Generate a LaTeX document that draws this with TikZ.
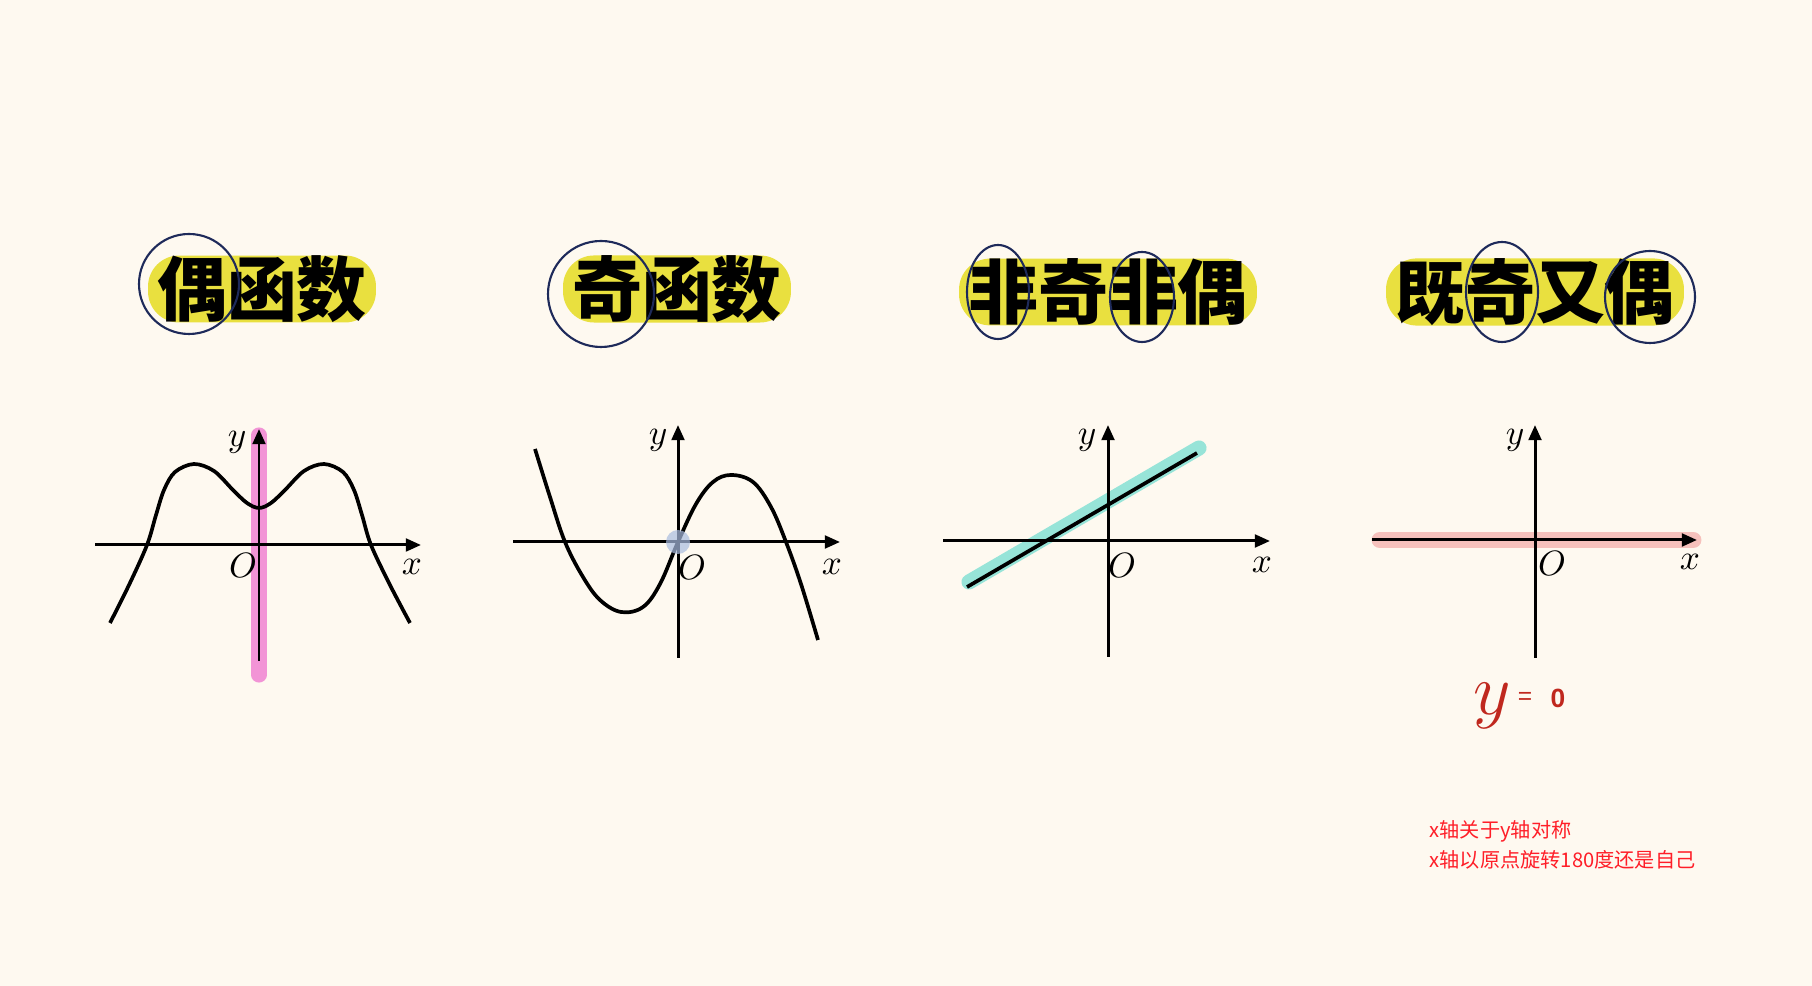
\documentclass[tikz,border=0pt]{standalone}
\usepackage{fontspec}
\newfontfamily\cjk{Noto Sans CJK SC}
\newfontfamily\handfont{Liberation Sans}
\usepackage{tikz}
\usetikzlibrary{arrows.meta, calc, positioning}
\definecolor{paper}{HTML}{FEF9F0}
\definecolor{hlyellow}{HTML}{E9E03F}
\definecolor{ringblue}{HTML}{1E2A5A}
\definecolor{barpink}{HTML}{F294D6}
\definecolor{dotblue}{HTML}{A9BCE0}
\definecolor{linecyan}{HTML}{97E4D8}
\definecolor{axissalmon}{HTML}{F6C1BC}
\definecolor{handred}{HTML}{C0281E}
\definecolor{notered}{HTML}{FF1E28}

\begin{document}
\begin{tikzpicture}[x=0.01cm, y=-0.01cm, >={Triangle[length=4.3pt,width=3.6pt]},
        title/.style={fill=hlyellow, rounded corners=0.31cm, minimum height=0.62cm,
            inner xsep=0.09cm, inner ysep=0pt, font=\cjk\bfseries\fontsize{19.9}{20}\selectfont},
        ring/.style={draw=ringblue, line width=0.6pt},
        axis/.style={->, line width=0.85pt},
        curve/.style={line width=1.05pt},
        glow/.style={line cap=round, line width=4.3pt},
        lbl/.style={font=\fontsize{10}{10}\selectfont, inner sep=0pt},
        hand/.style={text=handred, inner sep=0pt},
        note/.style={text=notered, font=\cjk\fontsize{5.74}{6}\selectfont, inner sep=0pt, anchor=west}]
        \fill[paper] (0,0) rectangle (1812,986);
        \useasboundingbox (0,0) rectangle (1812,986);

        % 偶函数
        \node[title] (t1) at (262,289) {偶函数};
        \draw[ring] ($(t1.center)+(-73,-5)$) circle [radius=50];
        \begin{scope}[shift={(259,545)}, yscale=-1]
            \coordinate (o1) at (0,0);
            \draw[glow, barpink] (0,-130) -- (0,110);
            \draw[axis] (-164,0) -- (162,0);
            \draw[axis] (0,-116) -- (0,116);
            \draw[curve] plot[smooth, tension=0.55] coordinates {(-149,-78) (-130,-40) (-112,0) (-103,30)
                (-95,55) (-84,73) (-65,81) (-45,74) (-26,55) (-12,42) (0,37) (12,42) (26,55)
                (45,74) (65,81) (84,73) (95,55) (103,30) (112,0) (131,-40) (151,-78)};
            \node[lbl] (y1) at (-22,103) {$y$};
            \node[lbl] (O1) at (-16,-20) {$O$};
            \node[lbl] (x1) at (153,-22) {$x$};
        \end{scope}

        % 奇函数
        \node[title] (t2) at (677,289) {奇函数};
        \draw[ring] ($(t2.center)+(-76,5)$) circle [radius=53];
        \begin{scope}[shift={(678,542)}, yscale=-1]
            \coordinate (o2) at (0,0);
            \draw[axis] (-165,0) -- (162,0);
            \draw[axis] (0,-116) -- (0,117);
            \draw[curve] plot[smooth, tension=0.6] coordinates {(-143,93) (-128,45) (-113,0) (-95,-35)
                (-78,-58) (-57,-70) (-35,-65) (-18,-42) (0,0) (18,38) (35,60) (53,67) (75,60)
                (93,35) (108,0) (123,-42) (140,-98)};
            \fill[dotblue, opacity=0.7] (o2) circle [radius=12];
            \node[lbl] (y2) at (-20,102) {$y$};
            \node[lbl] (O2) at (14,-25) {$O$};
            \node[lbl] (x2) at (154,-25) {$x$};
        \end{scope}

        % 非奇非偶
        \node[title] (t3) at (1108,292) {非奇非偶};
        \draw[ring] ($(t3.center)+(-110,0)$) ellipse [x radius=31, y radius=47];
        \draw[ring] ($(t3.center)+(34,5)$) ellipse [x radius=32, y radius=45];
        \begin{scope}[shift={(1108,541)}, yscale=-1]
            \coordinate (o3) at (0,0);
            \draw[glow, linecyan] (-139,-41) -- (91,93);
            \draw[axis] (-165,0) -- (162,0);
            \draw[axis] (0,-116) -- (0,116);
            \draw[curve] (-141,-46) -- (89,88);
            \node[lbl] (y3) at (-21,101) {$y$};
            \node[lbl] (O3) at (14,-24) {$O$};
            \node[lbl] (x3) at (154,-24) {$x$};
        \end{scope}

        % 既奇又偶
        \node[title] (t4) at (1535,292) {既奇又偶};
        \draw[ring] ($(t4.center)+(-33,0)$) ellipse [x radius=36, y radius=50];
        \draw[ring] ($(t4.center)+(115,5)$) ellipse [x radius=45, y radius=46];
        \begin{scope}[shift={(1535,540)}, yscale=-1]
            \coordinate (o4) at (0,0);
            \draw[glow, axissalmon, line width=4.8pt] (-155,0) -- (158,0);
            \draw[axis] (-163,0) -- (162,0);
            \draw[axis] (0,-118) -- (0,115);
            \node[lbl] (y4) at (-20,100) {$y$};
            \node[lbl] (O4) at (17,-23) {$O$};
            \node[lbl] (x4) at (155,-22) {$x$};
        \end{scope}
        \node[hand, font=\fontsize{20}{20}\selectfont] (ysym) at (1492,706) {$y$};
        \node[hand, font=\handfont\fontsize{7}{7}\selectfont] (eqsign) at (1525,698) {=};
        \node[hand, font=\handfont\bfseries\fontsize{7.5}{8}\selectfont] (zero) at (1558,698) {0};

        % 备注
        \node[note] (note1) at (1429,831) {x轴关于y轴对称};
        \node[note] (note2) at (1429,860) {x轴以原点旋转180度还是自己};
    \end{tikzpicture}
\end{document}
